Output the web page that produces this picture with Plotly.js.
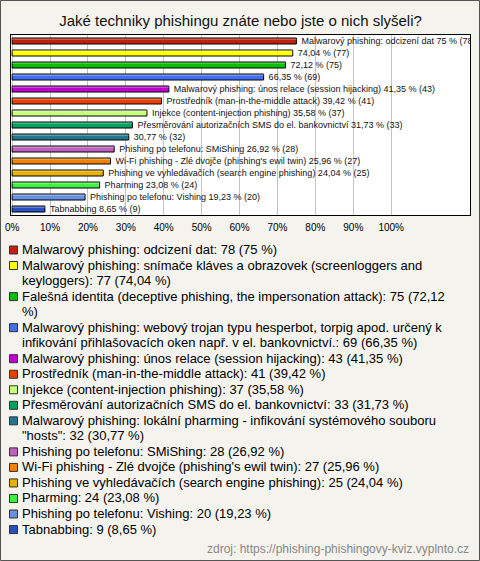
<!DOCTYPE html>
<html>
<head>
<meta charset="utf-8">
<script src="https://cdn.plot.ly/plotly-3.0.1.min.js"></script>
<style>
  html, body { margin: 0; padding: 0; background: #f4f3ee; }
  #chart { width: 480px; height: 561px; }
</style>
</head>
<body>
<div id="chart"></div>
<script>
// ---- data ----
const categories = [
  "Malwarový phishing: odcizení dat",
  "Malwarový phishing: snímače kláves a obrazovek (screenloggers and keyloggers)",
  "Falešná identita (deceptive phishing, the impersonation attack)",
  "Malwarový phishing: webový trojan typu hesperbot, torpig apod. určený k infikování přihlašovacích oken např. v el. bankovnictví.",
  "Malwarový phishing: únos relace (session hijacking)",
  "Prostředník (man-in-the-middle attack)",
  "Injekce (content-injection phishing)",
  "Přesměrování autorizačních SMS do el. bankovnictví",
  "Malwarový phishing: lokální pharming - infikování systémového souboru \"hosts\"",
  "Phishing po telefonu: SMiShing",
  "Wi-Fi phishing - Zlé dvojče (phishing's ewil twin)",
  "Phishing ve vyhledávačích (search engine phishing)",
  "Pharming",
  "Phishing po telefonu: Vishing",
  "Tabnabbing"
];
const counts = [78, 77, 75, 69, 43, 41, 37, 33, 32, 28, 27, 25, 24, 20, 9];
const percents = [75, 74.04, 72.12, 66.35, 41.35, 39.42, 35.58, 31.73, 30.77, 26.92, 25.96, 24.04, 23.08, 19.23, 8.65];
const nameOnBar = [true, false, false, false, true, true, true, true, false, true, true, true, true, true, true];
const colors = ["#c0200c", "#ffff00", "#00c000", "#4070f0", "#c000d0", "#e84000", "#c8ff80", "#00a060",
                "#207890", "#c060c0", "#f08000", "#e8b000", "#40f040", "#6890e0", "#2850c0"];
const tickValues = [0, 10, 20, 30, 40, 50, 60, 70, 80, 90, 100];
const titleText = "Jaké techniky phishingu znáte nebo jste o nich slyšeli?";
const sourceText = "zdroj: https://phishing-phishingovy-kviz.vyplnto.cz";

// ---- helpers ----
const FONT = "'Liberation Sans', Arial, sans-serif";
const fmt = v => String(v).replace('.', ',');
const barText = categories.map((c, i) => "\u00a0\u00a0" + (nameOnBar[i] ? c + " " : "") + fmt(percents[i]) + " % (" + counts[i] + ")");
const legendText = categories.map((c, i) => c + ": " + counts[i] + " (" + fmt(percents[i]) + " %)");

const W = 480, H = 561;
const M = {l: 11, r: 10, t: 35, b: 346};
const PW = W - M.l - M.r, PH = H - M.t - M.b;
const px2x = x => (x - M.l) / PW;
const px2y = y => (H - M.b - y) / PH;

const ctx = document.createElement('canvas').getContext('2d');
ctx.font = "13px " + FONT;
function wrap(text, maxW) {
  const words = text.split(' ');
  const lines = [];
  let cur = '';
  for (const w of words) {
    const test = cur ? cur + ' ' + w : w;
    if (cur && ctx.measureText(test).width > maxW) { lines.push(cur); cur = w; }
    else cur = test;
  }
  if (cur) lines.push(cur);
  return lines;
}

// ---- legend built as annotations ----
const annotations = [];
const shapes = [];
let lineIdx = 0;
const firstLine = 249.5, lineStep = 15.53;
legendText.forEach((t, i) => {
  const lines = wrap(t, 442);
  const yc = firstLine + lineStep * lineIdx;
  shapes.push({type: 'rect', xref: 'paper', yref: 'paper',
    x0: px2x(9.5), x1: px2x(17.5), y0: px2y(yc - 3.5), y1: px2y(yc + 4.5),
    fillcolor: colors[i], line: {color: '#333', width: 1}});
  lines.forEach(l => {
    const y = firstLine + lineStep * lineIdx;
    annotations.push({text: l, xref: 'paper', yref: 'paper', x: px2x(20), y: px2y(y),
      xanchor: 'left', yanchor: 'middle', showarrow: false,
      font: {family: FONT, size: 13, color: '#000'}});
    lineIdx++;
  });
});
annotations.push({text: sourceText, xref: 'paper', yref: 'paper', x: px2x(471), y: px2y(549),
  xanchor: 'right', yanchor: 'middle', showarrow: false,
  font: {family: FONT, size: 12, color: '#888'}});

// outer frame
shapes.push({type: 'rect', xref: 'paper', yref: 'paper',
  x0: px2x(0.5), x1: px2x(479.5), y0: px2y(560.5), y1: px2y(0.5),
  line: {color: '#555', width: 1}, fillcolor: 'rgba(0,0,0,0)'});

const trace = {
  type: 'bar', orientation: 'h',
  x: percents, y: categories,
  width: 0.5,
  marker: {color: colors, line: {color: '#000', width: 1}},
  text: barText, textposition: 'outside', textangle: 0,
  constraintext: 'none', cliponaxis: true,
  textfont: {family: FONT, size: 9, color: '#111'},
  hoverinfo: 'none'
};
// light top face of each bar (3D look)
const highlight = {
  type: 'bar', orientation: 'h',
  x: percents, y: categories,
  width: 0.1, offset: -0.2,
  marker: {color: 'rgba(255,255,255,0.35)', line: {width: 0}},
  hoverinfo: 'none'
};

const layout = {
  width: W, height: H,
  margin: M,
  barmode: 'overlay',
  paper_bgcolor: '#f4f3ee', plot_bgcolor: '#ffffff',
  font: {family: FONT, color: '#000'},
  title: {text: titleText, x: 0.5, xanchor: 'center', xref: 'paper', y: 1 - 21 / H, yanchor: 'middle',
          font: {size: 15, color: '#111'}},
  showlegend: false,
  xaxis: {range: [-0.3, 120.8], tickvals: tickValues, ticktext: tickValues.map(v => v + '%'),
          showgrid: true, gridcolor: '#c4c4c4', gridwidth: 1, zeroline: false,
          showline: true, mirror: true, linecolor: '#000', linewidth: 1,
          ticks: '', ticklabelstandoff: 3, tickfont: {size: 10, color: '#000'}, fixedrange: true},
  yaxis: {type: 'category', range: [categories.length - 0.5, -0.5], showticklabels: false,
          showgrid: false, zeroline: false, showline: true, mirror: true,
          linecolor: '#000', linewidth: 1, ticks: '', fixedrange: true},
  annotations: annotations,
  shapes: shapes
};

Plotly.newPlot('chart', [trace, highlight], layout, {staticPlot: true, displayModeBar: false});
</script>
</body>
</html>
